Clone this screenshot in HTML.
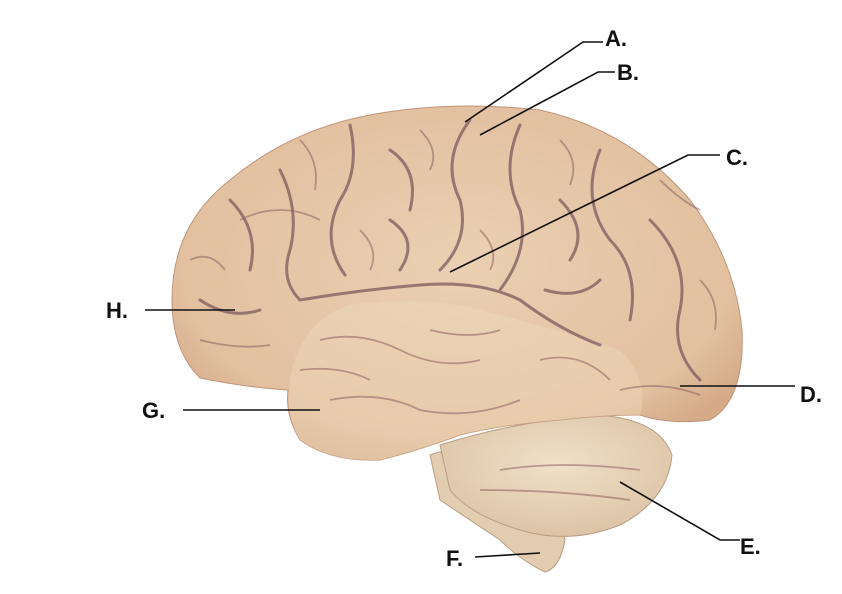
<!DOCTYPE html>
<html><head><meta charset="utf-8"><style>
html,body{margin:0;padding:0;background:#fff;}
svg{display:block}
text{font-family:"Liberation Sans",sans-serif;font-weight:bold;font-size:22px;fill:#111}
</style></head><body>
<svg width="842" height="594" viewBox="0 0 842 594">
<defs>
<radialGradient id="g1" cx="50%" cy="45%" r="60%">
<stop offset="0" stop-color="#ead0b2"/><stop offset="0.8" stop-color="#e2c0a0"/><stop offset="1" stop-color="#d4aa88"/>
</radialGradient>
<radialGradient id="g2" cx="50%" cy="40%" r="60%">
<stop offset="0" stop-color="#f0e0c8"/><stop offset="1" stop-color="#dcc4a6"/>
</radialGradient>
</defs>
<path d="M430,455 Q470,440 520,470 Q560,500 565,540 Q560,568 545,572 Q520,560 500,540 Q470,520 440,500 Z" fill="#e2cdb0" stroke="#b99c80"/>
<path d="M440,445 Q520,420 600,415 Q660,420 672,455 Q668,500 620,525 Q570,545 520,530 Q470,515 450,490 Z" fill="url(#g2)" stroke="#b99c80"/>
<path d="M172,300 Q172,225 230,180 Q290,130 370,115 Q450,100 540,110 Q630,130 690,200 Q735,260 742,330 Q745,400 710,420 Q670,425 640,415 Q600,415 560,420 Q500,425 460,435 Q420,450 380,460 Q330,462 300,440 Q285,415 288,390 Q250,388 200,378 Q172,350 172,300 Z" fill="url(#g1)" stroke="#c09478"/>
<path d="M290,380 Q300,320 350,305 Q420,295 480,310 Q560,330 620,350 Q650,380 640,415 Q600,415 560,420 Q500,425 460,435 Q420,450 380,460 Q330,462 300,440 Q285,415 290,380 Z" fill="#eed9bb" opacity="0.45"/>
<g fill="none" stroke="#7d5a5e" stroke-width="3" stroke-linecap="round" opacity="0.75">
<path d="M300,300 Q360,290 420,285 Q480,280 520,300 Q560,330 600,345"/>
<path d="M350,125 Q360,170 340,200 Q320,240 345,275"/>
<path d="M470,120 Q440,160 460,200 Q470,240 440,270"/>
<path d="M520,125 Q500,170 520,210 Q530,250 500,290"/>
<path d="M600,150 Q580,200 610,240 Q640,270 630,320"/>
<path d="M230,200 Q260,230 250,270"/>
<path d="M280,170 Q300,210 290,250 Q280,280 300,300"/>
<path d="M390,150 Q420,170 410,210"/>
<path d="M560,200 Q590,230 570,260"/>
<path d="M650,220 Q690,260 680,310 Q670,350 700,380"/>
<path d="M200,300 Q230,320 260,310"/>
<path d="M390,220 Q420,240 400,270"/>
<path d="M545,290 Q580,300 600,280"/>
</g>
<g fill="none" stroke="#8e6060" stroke-width="1.8" opacity="0.55">
<path d="M320,340 Q360,330 400,350 Q440,370 480,360"/>
<path d="M330,400 Q380,390 420,410 Q470,420 520,400"/>
<path d="M300,370 Q340,365 370,380"/>
<path d="M430,330 Q470,340 500,330"/>
<path d="M540,360 Q580,350 610,380"/>
<path d="M500,470 Q560,460 640,470"/>
<path d="M480,490 Q560,490 630,500"/>
<path d="M240,220 Q280,200 320,220"/>
<path d="M620,390 Q660,380 700,395"/>
<path d="M190,260 Q210,250 225,270"/>
<path d="M200,340 Q240,350 270,345"/>
<path d="M300,140 Q320,160 315,190"/>
<path d="M420,130 Q440,150 430,170"/>
<path d="M560,140 Q580,160 570,185"/>
<path d="M660,180 Q680,200 700,210"/>
<path d="M700,280 Q720,300 715,330"/>
<path d="M360,230 Q380,250 370,270"/>
<path d="M480,230 Q500,250 490,270"/>
</g>
<g stroke="#111" stroke-width="1.6" fill="none">
<polyline points="465,122 583,42 603,42"/>
<polyline points="480,135 598,72 615,72"/>
<polyline points="450,272 688,155 720,155"/>
<line x1="680" y1="386" x2="795" y2="386"/>
<polyline points="620,482 720,540 740,540"/>
<line x1="475" y1="557" x2="540" y2="553"/>
<line x1="183" y1="410" x2="320" y2="410"/>
<line x1="145" y1="310" x2="235" y2="310"/>
</g>
<text x="605" y="46">A.</text>
<text x="617" y="80">B.</text>
<text x="726" y="165">C.</text>
<text x="800" y="402">D.</text>
<text x="740" y="554">E.</text>
<text x="446" y="566">F.</text>
<text x="142" y="418">G.</text>
<text x="106" y="318">H.</text>
</svg>
</body></html>
